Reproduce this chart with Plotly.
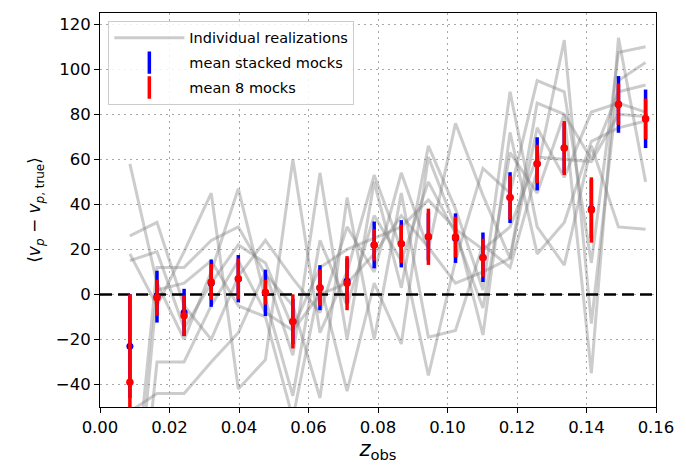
import numpy as np
import plotly.graph_objects as go

# Redshift bin centres
z_obs = [0.0086, 0.0164, 0.0242, 0.0320, 0.0398, 0.0476, 0.0555, 0.0633, 0.0711, 0.0789,
         0.0867, 0.0945, 0.1023, 0.1102, 0.1180, 0.1258, 0.1336, 0.1414, 0.1492, 0.1570]

# Individual mock realizations (8 mocks)
mock_1 = [58, 5, -20, 10, 47, -2, -45, 24, -5, 35, 15, 50, 27, -6, 63, 45, 80, -35, 114, 50]
mock_2 = [26, 32, -5, -20, 8, 24, 7, -8, 30, 10, 54, 20, 76, 44, 16, 74, 52, 81, 85, 81]
mock_3 = [18, -5, 19, 45, -42, -29, 60, -17, 10, 53, 20, -36, 15, 56, 45, 95, 90, 14, 107.5, 110]
mock_4 = [15, 19, -15, 5, 22, 14, -15, 12, 20, 25, 30, 42, 29, 20, 30, 61, 60, 59, 80, 79]
mock_5 = [-52, -44, -44, -30, -17, 10, -27, 54, -20, 50, 3, 66, 38, 2, 90, 30, 13, 66, 30, 29]
mock_6 = [-110, 12, 12, 24, 30, 9, -5, -46, 43, -20, 45, -19, -16, 22, 12, 55, 113, -13, 95, 103]
mock_7 = [-130, 2, 5, 15, -5, -10, -55, 5, -43, 5, -22, 61, 30, -18, 72, 18, 32, 68, 74, 77]
mock_8 = [-147, -30, -30, -5, 15, -8, -16, 0, 5, 18, 35, 21, 5, 10, 16, 85, 80, 60, 90, 93]
mocks = [mock_1, mock_2, mock_3, mock_4, mock_5, mock_6, mock_7, mock_8]

# Mean of stacked mocks and its uncertainty
stacked_mean = [-23, -1, -8, 5, 7, 0.7, -12, 3, 6, 22, 22.5, 25.6, 25, 16.5, 43, 58, 65, 38, 84.4, 78]
stacked_err = [23, 11.5, 10.5, 10.5, 10.5, 10.3, 10, 10, 10, 10.4, 10.5, 10.5, 11, 11, 11.3, 11.8, 11, 13, 12.6, 13]

# Mean over the 8 mocks and its uncertainty
mocks_mean = [-39, -1.5, -9.5, 5.5, 7, 1, -12, 3, 5, 22, 22.5, 25.6, 25.5, 16.3, 43, 58, 65, 37.5, 84.5, 78]
mocks_err = [39, 8, 9, 8, 9, 5.5, 12, 8, 12, 7, 8.5, 12.5, 9, 8.5, 9.7, 8.5, 12, 14.5, 9.2, 9]

x_ticks = [0.00, 0.02, 0.04, 0.06, 0.08, 0.10, 0.12, 0.14, 0.16]
y_ticks = [-40, -20, 0, 20, 40, 60, 80, 100, 120]

FONT = "DejaVu Sans, Arial, sans-serif"
GRAY = "rgba(128,128,128,0.4)"

fig = go.Figure()

for i, m in enumerate(mocks):
    fig.add_trace(go.Scatter(
        x=z_obs, y=m, mode="lines",
        line=dict(color=GRAY, width=3),
        name="Individual realizations",
        showlegend=(i == 0), legendgroup="mocks",
    ))

# zero reference line
fig.add_trace(go.Scatter(
    x=[0, 0.16], y=[0, 0], mode="lines",
    line=dict(color="black", width=2.5, dash="12px,6px"),
    showlegend=False, hoverinfo="skip",
))

fig.add_trace(go.Scatter(
    x=z_obs, y=stacked_mean, mode="markers",
    marker=dict(color="blue", size=7),
    error_y=dict(type="data", array=stacked_err, color="blue", thickness=3.5, width=0),
    name="mean stacked mocks", showlegend=False,
))
fig.add_trace(go.Scatter(
    x=z_obs, y=mocks_mean, mode="markers",
    marker=dict(color="red", size=7.5),
    error_y=dict(type="data", array=mocks_err, color="red", thickness=3.5, width=0),
    name="mean 8 mocks", showlegend=False,
))

# legend entries drawn as vertical error-bar glyphs
for name, col, grp in [("mean stacked mocks", "blue", "stacked"), ("mean 8 mocks", "red", "eight")]:
    fig.add_trace(go.Scatter(
        x=[None], y=[None], mode="markers", name=name, legendgroup=grp,
        marker=dict(symbol="line-ns-open", size=18, color=col, line=dict(color=col, width=3.5)),
    ))

axis_common = dict(
    showline=True, linecolor="black", linewidth=1, mirror=True,
    ticks="outside", ticklen=5, tickwidth=1, tickcolor="black",
    showgrid=True, gridcolor="#a8a8a8", griddash="2px,4px", gridwidth=1.3,
    zeroline=False, tickfont=dict(family=FONT, size=16.5, color="black"),
)

fig.update_layout(
    width=686, height=470,
    margin=dict(l=100, r=30, t=13, b=63),
    paper_bgcolor="white", plot_bgcolor="white",
    font=dict(family=FONT, color="black"),
    xaxis=dict(range=[0, 0.16], tickvals=x_ticks, tickformat=".2f",
               title=dict(text="<i>z</i><sub>obs</sub>", font=dict(size=21), standoff=4),
               **axis_common),
    yaxis=dict(range=[-50, 125], tickvals=y_ticks,
               title=dict(text="⟨<i>v</i><sub><i>p</i></sub> − <i>v</i><sub><i>p</i>, true</sub>⟩",
                          font=dict(size=17), standoff=10),
               **axis_common),
    legend=dict(x=0.015, y=0.98, xanchor="left", yanchor="top", traceorder="grouped",
                bgcolor="rgba(255,255,255,0.85)", bordercolor="#cccccc", borderwidth=1,
                font=dict(family=FONT, size=14.5), tracegroupgap=3, itemwidth=70),
)

fig.write_html("out.html")
